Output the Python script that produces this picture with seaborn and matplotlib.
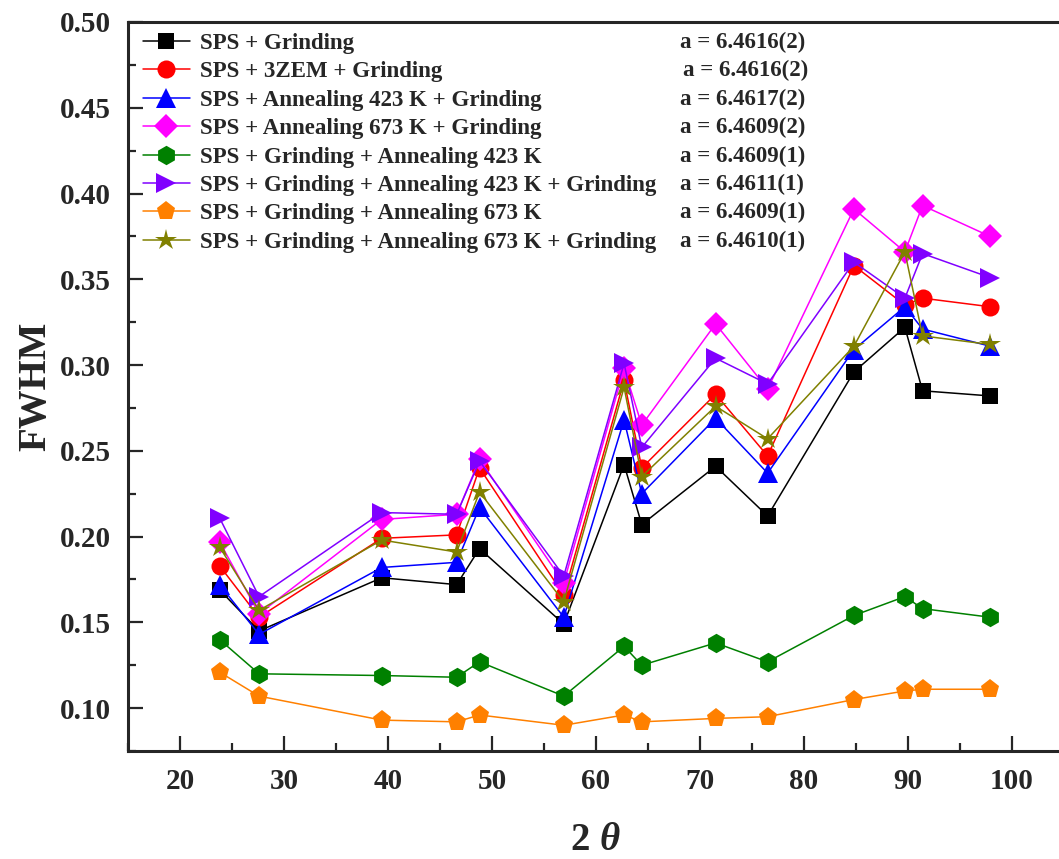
import matplotlib
matplotlib.use("Agg")
import matplotlib.pyplot as plt
from matplotlib.ticker import MultipleLocator
import numpy as np
import pandas as pd
import seaborn as sns

# Peak positions (2 theta, degrees)
two_theta = [23.8, 27.6, 39.4, 46.6, 48.8, 56.9, 62.7, 64.4, 71.5, 76.5, 84.8, 89.7, 91.4, 97.9]

# Sample treatments
samples = [
    "SPS + Grinding",
    "SPS + 3ZEM + Grinding",
    "SPS + Annealing 423 K + Grinding",
    "SPS + Annealing 673 K + Grinding",
    "SPS + Grinding + Annealing 423 K",
    "SPS + Grinding + Annealing 423 K + Grinding",
    "SPS + Grinding + Annealing 673 K",
    "SPS + Grinding + Annealing 673 K + Grinding",
]

# Refined lattice parameters
lattice = [
    "a = 6.4616(2)", "a = 6.4616(2)", "a = 6.4617(2)", "a = 6.4609(2)",
    "a = 6.4609(1)", "a = 6.4611(1)", "a = 6.4609(1)", "a = 6.4610(1)",
]

# FWHM of each peak per sample
fwhm_sps_grind = [0.169, 0.145, 0.176, 0.172, 0.193, 0.149, 0.242, 0.207, 0.241, 0.212, 0.296, 0.322, 0.285, 0.282]
fwhm_3zem = [0.183, 0.153, 0.199, 0.201, 0.240, 0.166, 0.291, 0.240, 0.283, 0.247, 0.358, 0.335, 0.339, 0.334]
fwhm_ann423_grind = [0.172, 0.143, 0.182, 0.185, 0.217, 0.153, 0.268, 0.225, 0.269, 0.237, 0.309, 0.334, 0.321, 0.311]
fwhm_ann673_grind = [0.197, 0.155, 0.210, 0.213, 0.245, 0.173, 0.298, 0.265, 0.324, 0.286, 0.391, 0.366, 0.393, 0.375]
fwhm_grind_ann423 = [0.140, 0.120, 0.119, 0.118, 0.127, 0.107, 0.136, 0.125, 0.138, 0.127, 0.154, 0.165, 0.158, 0.153]
fwhm_grind_ann423_grind = [0.211, 0.165, 0.214, 0.213, 0.244, 0.177, 0.301, 0.252, 0.304, 0.289, 0.360, 0.339, 0.365, 0.351]
fwhm_grind_ann673 = [0.121, 0.107, 0.093, 0.092, 0.096, 0.090, 0.096, 0.092, 0.094, 0.095, 0.105, 0.110, 0.111, 0.111]
fwhm_grind_ann673_grind = [0.194, 0.157, 0.198, 0.191, 0.226, 0.162, 0.287, 0.235, 0.276, 0.257, 0.311, 0.366, 0.317, 0.312]

series = [fwhm_sps_grind, fwhm_3zem, fwhm_ann423_grind, fwhm_ann673_grind,
          fwhm_grind_ann423, fwhm_grind_ann423_grind, fwhm_grind_ann673, fwhm_grind_ann673_grind]

colors = ["#000000", "#FF0000", "#0000FF", "#FF00FF", "#008000", "#8000FF", "#FF8000", "#808000"]
marker_list = ["s", "o", "^", "D", "h", ">", "p", "*"]
marker_sizes = [11, 13, 14, 12, 14, 14, 14, 16]

df = pd.DataFrame({
    "two_theta": np.tile(two_theta, len(samples)),
    "fwhm": np.concatenate(series),
    "sample": np.repeat(samples, len(two_theta)),
})

sns.set_style("ticks")
plt.rcParams["font.family"] = ["Liberation Serif", "DejaVu Serif"]
plt.rcParams["font.weight"] = "bold"
plt.rcParams["mathtext.fontset"] = "custom"
plt.rcParams["mathtext.rm"] = "Liberation Serif:bold"
plt.rcParams["mathtext.bf"] = "Liberation Serif:bold"
plt.rcParams["mathtext.it"] = "Liberation Serif:italic"

fig = plt.figure(figsize=(10.59, 8.59), dpi=100)
W, H = 1059, 859
ax_l, ax_r, ax_t, ax_b = 128, 1064, 22, 751
ax = fig.add_axes([ax_l / W, (H - ax_b) / H, (ax_r - ax_l) / W, (ax_b - ax_t) / H])

for name, col, mk, ms in zip(samples, colors, marker_list, marker_sizes):
    sub = df[df["sample"] == name]
    sns.lineplot(data=sub, x="two_theta", y="fwhm", ax=ax, color=col, marker=mk,
                 markersize=ms, markeredgewidth=0, linewidth=1.1, label=name,
                 legend=False, estimator=None, sort=False)

ax.set_xlim(15, 105)
ax.set_ylim(0.075, 0.5)
ax.xaxis.set_major_locator(MultipleLocator(10))
ax.xaxis.set_minor_locator(MultipleLocator(5))
ax.yaxis.set_major_locator(MultipleLocator(0.05))
ax.yaxis.set_minor_locator(MultipleLocator(0.025))
ax.xaxis.set_major_formatter(plt.FuncFormatter(lambda v, p: f"{v:.0f}" if 20 <= v <= 100 else ""))
ax.yaxis.set_major_formatter(plt.FuncFormatter(lambda v, p: f"{v:.2f}" if v >= 0.1 else ""))

ax.tick_params(axis="both", which="major", direction="in", length=11, width=1.6,
               labelsize=21, pad=12, top=False, right=False)
ax.tick_params(axis="both", which="minor", direction="in", length=5.5, width=1.6,
               top=False, right=False)
for lab in ax.get_xticklabels() + ax.get_yticklabels():
    lab.set_fontweight("bold")
for sp in ax.spines.values():
    sp.set_linewidth(2.2)
    sp.set_visible(True)

ax.set_xlabel(r"$\mathbf{2}\ \mathit{\theta}$", fontsize=28, labelpad=20)
ax.set_ylabel("FWHM", fontsize=28, fontweight="bold", labelpad=4)

handles = ax.get_lines()[:len(samples)]
leg = ax.legend(handles=handles, labels=samples, loc="upper left",
                bbox_to_anchor=(15 / (ax_r - ax_l), 1 - 11 / (ax_b - ax_t)),
                frameon=False, handlelength=2.05, handletextpad=0.45,
                labelspacing=0.32, borderpad=0, borderaxespad=0,
                prop={"family": "Liberation Serif", "weight": "bold", "size": 16.5})

row0, row_step = 42.5, 28.4
for i, txt in enumerate(lattice):
    xpx = 683 if i == 1 else 680
    fig.text(xpx / W, 1 - (row0 + i * row_step) / H, txt, fontsize=16.5,
             fontweight="bold", va="center", ha="left")

fig.savefig("out.png", dpi=100)
